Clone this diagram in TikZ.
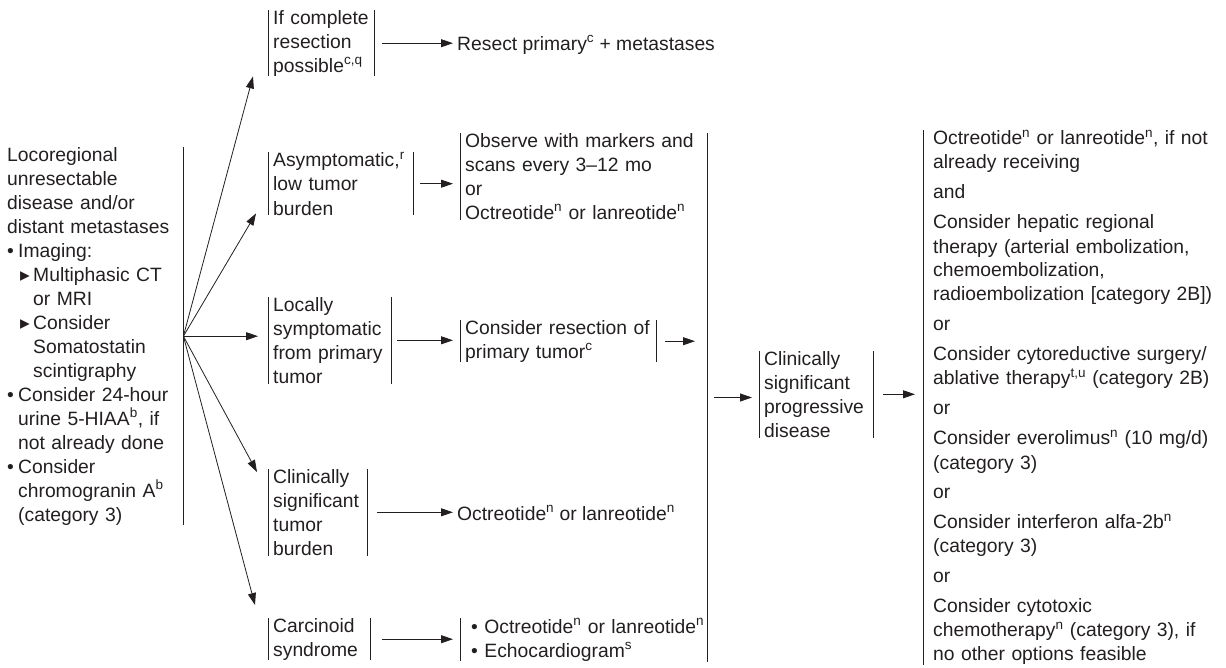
\documentclass[tikz,border=0pt]{standalone}
\usepackage{fontspec}
\setmainfont{Liberation Sans}
\newfontfamily\symf{DejaVu Sans}
\usetikzlibrary{arrows.meta,calc}
\definecolor{ink}{HTML}{231F20}
% list helpers for the left-hand text block
\newcommand{\lbul}{\makebox[11pt][l]{•}}
\newcommand{\lind}{\hspace*{11pt}}
\newcommand{\ltri}{\hspace*{13pt}\makebox[13pt][l]{\symf ▸}}
\newcommand{\ltind}{\hspace*{26pt}}
\newcommand{\sps}[1]{\textsuperscript{#1}}
\begin{document}
\begin{tikzpicture}[x=1pt,y=-1pt,
  every node/.style={font=\fontsize{19.3}{24}\selectfont, text=ink, inner ysep=0pt},
  stepbox/.style={anchor=north west, align=left, inner xsep=5pt},
  plain/.style={anchor=west, inner xsep=4pt},
  bar/.style={draw=ink, line width=0.8pt},
  arr/.style={draw=ink, line width=0.8pt, -{Triangle[length=12pt,width=8pt]}}]
\useasboundingbox (0,0) rectangle (1226,667);

% entry block
\node[anchor=north west, align=left, inner xsep=0pt, text width=176pt] (lr) at (7,147)
 {Locoregional\\
  unresectable\\
  disease and/or\\
  distant metastases\\
  \lbul Imaging:\\
  \ltri Multiphasic CT\\
  \ltind or MRI\\
  \ltri Consider\\
  \ltind Somatostatin\\
  \ltind scintigraphy\\
  \lbul Consider 24-hour\\
  \lind urine 5-HIAA\sps{b}, if\\
  \lind not already done\\
  \lbul Consider\\
  \lind chromogranin A\sps{b}\\
  \lind (category 3)};

% second column
\node[stepbox, text width=96pt]  (ifc) at (268,10)  {If complete\\resection\\possible\sps{c,q}};
\node[stepbox, text width=135pt] (asy) at (268,152) {Asymptomatic,\sps{r}\\low tumor\\burden};
\node[stepbox, text width=113pt] (loc) at (268,297) {Locally\\symptomatic\\from primary\\tumor};
\node[stepbox, text width=89pt]  (cst) at (268,469) {Clinically\\significant\\tumor\\burden};
\node[stepbox, text width=92pt]  (car) at (268,618) {Carcinoid\\syndrome};

% third column
\node[plain] (res) at (453,45) {Resect primary\sps{c} + metastases};
\node[stepbox, text width=240pt] (obs) at (460,133)
 {Observe with markers and\\scans every 3–12 mo\\or\\Octreotide\sps{n} or lanreotide\sps{n}};
\node[stepbox, text width=186pt] (cres) at (460,320) {Consider resection of\\primary tumor\sps{c}};
\node[plain] (oct) at (453,513) {Octreotide\sps{n} or lanreotide\sps{n}};
\node[stepbox, text width=236pt] (bul) at (460,618)
 {\mbox{\hspace*{6pt}• Octreotide\sps{n} or lanreotide\sps{n}}\\\mbox{\hspace*{6pt}• Echocardiogram\sps{s}}};

% progression and subsequent options
\node[stepbox, text width=104pt] (prog) at (759,351) {Clinically\\significant\\progressive\\disease};
\node[anchor=north west, align=left, inner xsep=0pt, text width=288pt] (rgt) at (933,130)
 {Octreotide\sps{n} or lanreotide\sps{n}, if not\\
  already receiving\\[6pt]
  and\\[6pt]
  Consider hepatic regional\\
  therapy (arterial embolization,\\
  chemoembolization,\\
  radioembolization [category 2B])\\[6pt]
  or\\[6pt]
  Consider cytoreductive surgery/\\
  ablative therapy\sps{t,u} (category 2B)\\[6pt]
  or\\[6pt]
  Consider everolimus\sps{n} (10 mg/d)\\
  (category 3)\\[6pt]
  or\\[6pt]
  Consider interferon alfa-2b\sps{n}\\
  (category 3)\\[6pt]
  or\\[6pt]
  Consider cytotoxic\\
  chemotherapy\sps{n} (category 3), if\\
  no other options feasible};

% bracket bars
\draw[bar] (lr.north east) -- (lr.south east);
\foreach \n in {ifc,asy,loc,cst,car,cres,prog}
  \draw[bar] (\n.north west) -- (\n.south west) (\n.north east) -- (\n.south east);
\foreach \n in {obs,bul}
  \draw[bar] (\n.north west) -- (\n.south west);
\coordinate (rT) at ([xshift=-10pt]rgt.north west);
\coordinate (rB) at ([xshift=-10pt]rgt.south west);
\draw[bar] (rT) -- (rB);
\coordinate (gT) at (707,133);
\coordinate (gB) at (707,662);
\coordinate (gM) at ($(gT)!0.5!(gB)$);
\draw[bar] (gT) -- (gB);

% fan of arrows from the entry block
\coordinate (t1) at ($(ifc.south west)+(-15,0)$);
\coordinate (t2) at ($(asy.south west)+(-12,-2)$);
\coordinate (t4) at ($(cst.north west)+(-11,3)$);
\coordinate (t5) at ($(car.north west)+(-13,-13)$);
\draw[arr] (lr.east) -- (t1);
\draw[arr] (lr.east) -- (t2);
\draw[arr, shorten >=10pt] (lr.east) -- (lr.east -| loc.west);
\draw[arr] (lr.east) -- (t4);
\draw[arr] (lr.east) -- (t5);

% row connectors
\draw[arr, shorten <=8pt] (ifc.east) -- (ifc.east -| res.west);
\draw[arr, shorten <=7pt, shorten >=7pt] (asy.east) -- (asy.east -| obs.west);
\draw[arr, shorten <=6pt, shorten >=7pt] (loc.east) -- (loc.east -| cres.west);
\draw[arr, shorten <=9pt, shorten >=12pt] (cres.east) -- (cres.east -| gT);
\draw[arr, shorten <=10pt] (cst.east) -- (cst.east -| oct.west);
\draw[arr, shorten <=12pt, shorten >=7pt] (car.east) -- (car.east -| bul.west);
\draw[arr, shorten <=7pt, shorten >=7pt] (gM) -- (gM -| prog.west);
\draw[arr, shorten <=10pt, shorten >=8pt] (prog.east) -- (prog.east -| rT);
\end{tikzpicture}
\end{document}
